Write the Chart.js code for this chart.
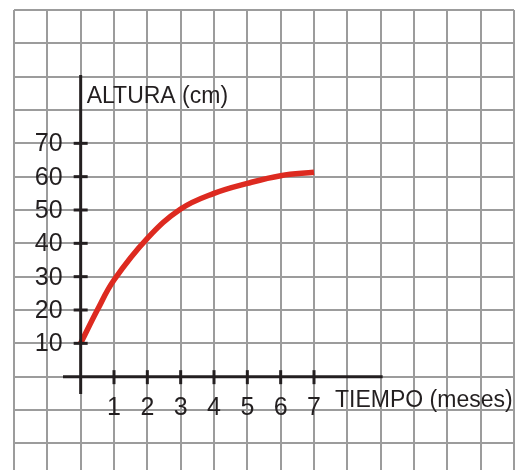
<!DOCTYPE html>
<html>
<head>
<meta charset="utf-8">
<script src="https://cdn.jsdelivr.net/npm/chart.js@4/dist/chart.umd.min.js"></script>
<style>
  html, body { margin: 0; padding: 0; background: #fff; }
  #wrap { width: 522px; height: 470px; }
</style>
</head>
<body>
<div id="wrap"><canvas id="growthChart"></canvas></div>
<script>
// Data
var months = [0, 0.5, 1, 2, 3, 4, 5, 6, 7];
var heights = [10, 20, 29, 41.5, 50.3, 55, 58, 60.3, 61.3];
var xTickLabels = ['1', '2', '3', '4', '5', '6', '7'];
var yTickLabels = ['10', '20', '30', '40', '50', '60', '70'];
var xTitle = 'TIEMPO (meses)';
var yTitle = 'ALTURA (cm)';

var ink = '#231f20';
var gridColor = '#9c9c9c';

// Squared paper lines
var xGrid = [];
for (var i = -2; i <= 13; i++) xGrid.push(i);
var yGrid = [];
for (var j = -20; j <= 110; j += 10) yGrid.push(j);

var axesPlugin = {
    id: 'handAxes',
    afterDatasetsDraw: function(chart) {
        var ctx = chart.ctx;
        var xs = chart.scales.x, ys = chart.scales.y;
        var x0 = xs.getPixelForValue(0), y0 = ys.getPixelForValue(0);
        ctx.save();
        ctx.strokeStyle = ink;
        ctx.lineWidth = 3;
        ctx.lineCap = 'butt';
        // y axis
        ctx.beginPath();
        ctx.moveTo(x0, ys.getPixelForValue(90.5));
        ctx.lineTo(x0, ys.getPixelForValue(-5.2));
        ctx.stroke();
        // x axis
        ctx.beginPath();
        ctx.moveTo(xs.getPixelForValue(-0.53), y0);
        ctx.lineTo(xs.getPixelForValue(9.06), y0);
        ctx.stroke();

        ctx.fillStyle = ink;
        ctx.font = '25px "Liberation Sans", Arial, sans-serif';
        // y ticks
        ctx.textAlign = 'right';
        ctx.textBaseline = 'middle';
        yTickLabels.forEach(function(lbl) {
            var py = ys.getPixelForValue(parseFloat(lbl));
            ctx.beginPath();
            ctx.moveTo(x0 - 7, py);
            ctx.lineTo(x0 + 7, py);
            ctx.stroke();
            ctx.fillText(lbl, x0 - 18, py + 1);
        });
        // x ticks
        ctx.textAlign = 'center';
        xTickLabels.forEach(function(lbl) {
            var px = xs.getPixelForValue(parseFloat(lbl));
            ctx.beginPath();
            ctx.moveTo(px, y0 - 6.5);
            ctx.lineTo(px, y0 + 7.5);
            ctx.stroke();
            ctx.fillText(lbl, px, y0 + 31);
        });

        ctx.font = '23px "Liberation Sans", Arial, sans-serif';
        ctx.textAlign = 'left';
        ctx.textBaseline = 'alphabetic';
        ctx.fillText(yTitle, x0 + 6, ys.getPixelForValue(82.1));
        ctx.fillText(xTitle, xs.getPixelForValue(7.63), y0 + 30);
        ctx.restore();
    }
};

var ctx = document.getElementById('growthChart').getContext('2d');
var growthChart = new Chart(ctx, {
    type: 'line',
    data: {
        datasets: [{
            label: yTitle,
            data: months.map(function(m, k) { return { x: m, y: heights[k] }; }),
            borderColor: '#dd2a20',
            borderWidth: 5.5,
            borderCapStyle: 'butt',
            tension: 0.4,
            pointRadius: 0,
            fill: false
        }]
    },
    options: {
        responsive: true,
        maintainAspectRatio: false,
        animation: false,
        layout: { padding: { left: 14, top: 10, right: 8, bottom: 0 } },
        plugins: {
            legend: { display: false },
            tooltip: { enabled: false }
        },
        scales: {
            x: {
                type: 'linear',
                min: -2,
                max: 13,
                afterBuildTicks: function(scale) {
                    scale.ticks = xGrid.map(function(v) { return { value: v }; });
                },
                ticks: { display: false },
                border: { display: false },
                grid: { color: gridColor, lineWidth: 2, drawTicks: false }
            },
            y: {
                type: 'linear',
                min: -28,
                max: 110,
                afterBuildTicks: function(scale) {
                    scale.ticks = yGrid.map(function(v) { return { value: v }; });
                },
                ticks: { display: false },
                border: { display: false },
                grid: { color: gridColor, lineWidth: 2, drawTicks: false }
            }
        }
    },
    plugins: [axesPlugin]
});
</script>
</body>
</html>
